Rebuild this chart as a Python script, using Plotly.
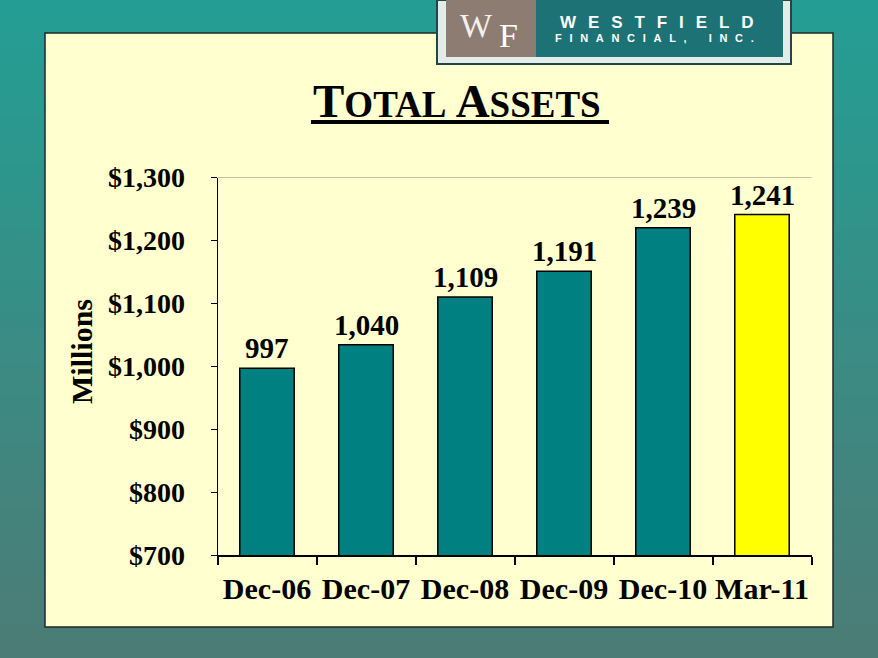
import plotly.graph_objects as go

# ---- data ----
categories = ["Dec-06", "Dec-07", "Dec-08", "Dec-09", "Dec-10", "Mar-11"]
bar_values = [997, 1034, 1110, 1151, 1220, 1241]          # bar heights as drawn
bar_labels = ["997", "1,040", "1,109", "1,191", "1,239", "1,241"]  # printed labels
bar_colors = ["#008080", "#008080", "#008080", "#008080", "#008080", "#FFFF00"]
y_tickvals = [700, 800, 900, 1000, 1100, 1200, 1300]
y_ticktext = ["$700", "$800", "$900", "$1,000", "$1,100", "$1,200", "$1,300"]

W, H = 878, 658
def px(x):
    return x / W
def py(y):
    return 1 - y / H

SERIF = "Liberation Serif, Times New Roman, serif"
SANS = "Liberation Sans, Arial, sans-serif"

fig = go.Figure()
fig.add_trace(go.Bar(
    x=categories, y=bar_values,
    marker=dict(color=bar_colors, line=dict(color="black", width=1.5)),
    width=0.55, hoverinfo="skip",
))

annotations = []
for c, v, t in zip(categories, bar_values, bar_labels):
    annotations.append(dict(x=c, y=v, xref="x", yref="y", text="<b>%s</b>" % t,
                            showarrow=False, yanchor="bottom", yshift=2,
                            font=dict(family=SERIF, size=29, color="black")))

# title in small caps style
annotations.append(dict(
    x=px(457), y=py(101), xref="paper", yref="paper", showarrow=False,
    text="<b>T<span style='font-size:37px'>OTAL</span> A<span style='font-size:37px'>SSETS</span></b>",
    font=dict(family=SERIF, size=47, color="black"), xanchor="center", yanchor="middle"))

# y axis title
annotations.append(dict(
    x=px(81), y=py(352), xref="paper", yref="paper", showarrow=False,
    text="<b>Millions</b>", textangle=-90,
    font=dict(family=SERIF, size=30, color="black"), xanchor="center", yanchor="middle"))

# logo monogram and name
annotations.append(dict(x=px(495), y=py(25), xref="paper", yref="paper", showarrow=False,
                        text="W", font=dict(family=SERIF, size=34, color="#f4f0ec"),
                        xanchor="right", yanchor="middle"))
annotations.append(dict(x=px(497), y=py(36), xref="paper", yref="paper", showarrow=False,
                        text="F", font=dict(family=SERIF, size=34, color="#ffffff"),
                        xanchor="left", yanchor="middle"))
annotations.append(dict(x=px(656), y=py(22), xref="paper", yref="paper", showarrow=False,
                        text="<b>" + "\u2002\u2009".join("WESTFIELD") + "</b>",
                        font=dict(family=SANS, size=17, color="white"),
                        xanchor="center", yanchor="middle"))
annotations.append(dict(x=px(654), y=py(38), xref="paper", yref="paper", showarrow=False,
                        text="<b>" + "\u2002\u2009".join("FINANCIAL,") + "\u2003\u2003" + "\u2002\u2009".join("INC.") + "</b>",
                        font=dict(family=SANS, size=11, color="white"),
                        xanchor="center", yanchor="middle"))

# background: smooth teal gradient from top to bottom (decoration)
top_rgb = (36, 158, 148)
bot_rgb = (76, 124, 118)
shapes = []
n_bands = 40
for i in range(n_bands):
    f = i / (n_bands - 1)
    col = "rgb(%d,%d,%d)" % tuple(round(a + (b - a) * f) for a, b in zip(top_rgb, bot_rgb))
    shapes.append(dict(type="rect", xref="paper", yref="paper", x0=0, x1=1,
                       y0=max(0, 1 - (i + 1) / n_bands - 0.002), y1=1 - i / n_bands,
                       fillcolor=col, line=dict(width=0), layer="below"))
shapes += [
    # pale yellow panel
    dict(type="rect", xref="paper", yref="paper", x0=px(45), x1=px(833), y0=py(627), y1=py(33),
         fillcolor="#FFFFCF", line=dict(color="#1e2a28", width=1.5), layer="below"),
    # logo
    dict(type="rect", xref="paper", yref="paper", x0=px(437), x1=px(791), y0=py(64), y1=1,
         fillcolor="#e4ece9", line=dict(color="#1f4747", width=2), layer="below"),
    dict(type="rect", xref="paper", yref="paper", x0=px(446), x1=px(536), y0=py(57), y1=1,
         fillcolor="#8d7c72", line=dict(width=0), layer="below"),
    dict(type="rect", xref="paper", yref="paper", x0=px(536), x1=px(783), y0=py(57), y1=1,
         fillcolor="#1d7275", line=dict(width=0), layer="below"),
    # title underline
    dict(type="line", xref="paper", yref="paper", x0=px(311), x1=px(609), y0=py(122), y1=py(122),
         line=dict(color="black", width=4)),
    # top line of plot area
    dict(type="line", xref="x domain", yref="y", x0=0, x1=1, y0=1300, y1=1300,
         line=dict(color="#8a8a7a", width=1)),
]

fig.update_layout(
    width=W, height=H, autosize=False,
    margin=dict(l=0, r=0, t=0, b=0, pad=0),
    paper_bgcolor="#2e9a92",
    plot_bgcolor="rgba(0,0,0,0)",
    showlegend=False,
    bargap=0.45,
    annotations=annotations,
    shapes=shapes,
    xaxis=dict(domain=[px(217.5), px(811.5)], automargin=False,
               showgrid=False, zeroline=False,
               showline=True, linecolor="black", linewidth=2,
               ticks="outside", tickson="boundaries", ticklen=8, tickwidth=2, tickcolor="black",
               ticklabelstandoff=6, tickangle=0,
               tickfont=dict(family=SERIF, size=30, color="black"),
               tickprefix="<b>", ticksuffix="</b>", fixedrange=True),
    yaxis=dict(domain=[py(555), py(177.5)], range=[700, 1300], automargin=False,
               showgrid=False, zeroline=False,
               showline=True, linecolor="black", linewidth=1,
               tickvals=y_tickvals, ticktext=["<b>%s</b>" % t for t in y_ticktext],
               ticks="outside", ticklen=6, tickwidth=1, tickcolor="black",
               ticklabelstandoff=20,
               tickfont=dict(family=SERIF, size=28, color="black"), fixedrange=True),
)

fig.write_html("out.html", config={"displayModeBar": False},
               post_script="document.body.style.margin='0';")
